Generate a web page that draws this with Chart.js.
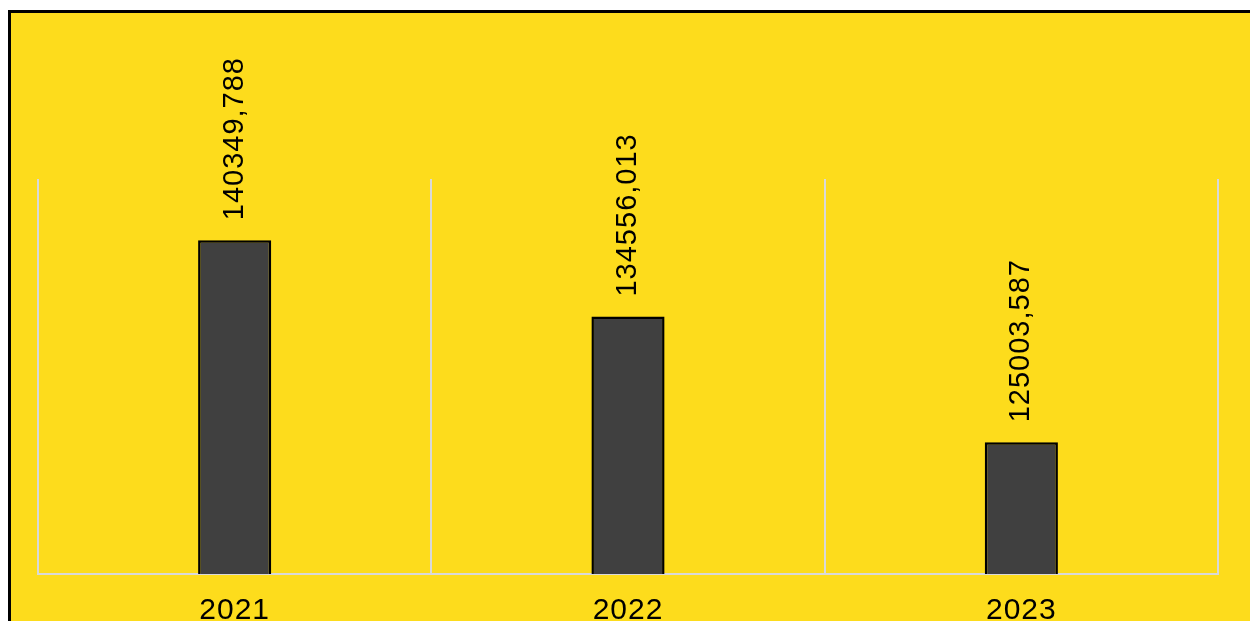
<!DOCTYPE html>
<html>
<head>
<meta charset="utf-8">
<script src="https://cdn.jsdelivr.net/npm/chart.js@4.4.0/dist/chart.umd.min.js"></script>
<style>
  html, body { margin: 0; padding: 0; background: #ffffff; overflow: hidden; width: 1250px; height: 621px; }
  #frame { position: absolute; left: 8px; top: 10px; width: 1260px; height: 660px;
           border-top: 3px solid #000; border-left: 3px solid #000; background: #FDDC1C; }
  #wrap { position: absolute; left: 0; top: 0; width: 1250px; height: 661px; }
</style>
</head>
<body>
<div id="frame"></div>
<div id="wrap"><canvas id="c" width="1250" height="661"></canvas></div>
<script>
const categories = ['2021', '2022', '2023'];
const values = [140349.788, 134556.013, 125003.587];
const yMin = 115000;
const yMax = 145000;

function fmt(v) { return v.toFixed(3).replace('.', ','); }

const spacing = {
  id: 'spacing',
  beforeDraw(chart) { chart.ctx.letterSpacing = '1px'; },
  beforeUpdate(chart) { chart.ctx.letterSpacing = '1px'; }
};

const valueLabels = {
  id: 'valueLabels',
  afterDatasetsDraw(chart) {
    const ctx = chart.ctx;
    const meta = chart.getDatasetMeta(0);
    ctx.save();
    ctx.letterSpacing = '1px';
    ctx.fillStyle = '#000';
    ctx.font = '29px "Liberation Sans", Arial, sans-serif';
    ctx.textAlign = 'left';
    ctx.textBaseline = 'middle';
    meta.data.forEach((bar, i) => {
      ctx.save();
      ctx.translate(bar.x, bar.y - 20);
      ctx.rotate(-Math.PI / 2);
      ctx.fillText(fmt(values[i]), 0, 0);
      ctx.restore();
    });
    ctx.restore();
  }
};

new Chart(document.getElementById('c'), {
  type: 'bar',
  data: {
    labels: categories,
    datasets: [{
      data: values,
      backgroundColor: '#404040',
      borderColor: '#000000',
      borderWidth: 2.5,
      borderSkipped: false,
      categoryPercentage: 1,
      barPercentage: 0.186
    }]
  },
  options: {
    responsive: false,
    animation: false,
    events: [],
    layout: { padding: { left: 38, right: 32, top: 179, bottom: 13 } },
    plugins: { legend: { display: false }, tooltip: { enabled: false } },
    scales: {
      x: {
        grid: { display: true, offset: true, color: '#d9d9d9', lineWidth: 2, drawTicks: false },
        border: { display: true, color: '#d9d9d9', width: 2 },
        ticks: { color: '#000', padding: 19, font: { family: '"Liberation Sans", Arial, sans-serif', size: 30 } }
      },
      y: {
        display: false,
        min: yMin,
        max: yMax
      }
    }
  },
  plugins: [spacing, valueLabels]
});
</script>
</body>
</html>
